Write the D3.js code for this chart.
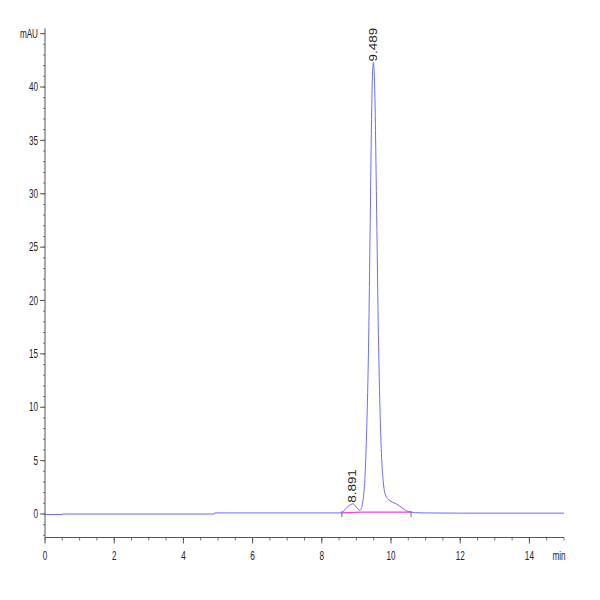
<!DOCTYPE html>
<html>
<head>
<meta charset="utf-8">
<script src="https://cdn.jsdelivr.net/npm/d3@7"></script>
<style>
  body { margin: 0; background: #fff; }
  text { font-family: "Liberation Sans", Arial, sans-serif; }
</style>
</head>
<body>
<svg id="chart" width="600" height="600"></svg>
<script>
// retention time (min) and signal (mAU)
var times = [0, 0.5, 0.5, 4.9, 4.9, 8.5, 8.58, 8.65, 8.72, 8.8, 8.85, 8.891, 8.95, 9.0, 9.05, 9.1,
  9.15, 9.2, 9.25, 9.3, 9.35, 9.4, 9.45, 9.489, 9.53, 9.58, 9.63, 9.68, 9.73, 9.78, 9.85,
  9.95, 10.05, 10.15, 10.25, 10.35, 10.45, 10.55, 10.7, 11, 12, 15];
var signal = [-0.05, -0.05, 0.0, 0.0, 0.1, 0.1, 0.12, 0.35, 0.6, 0.82, 0.9, 0.95, 0.85, 0.65, 0.45, 0.35,
  0.6, 1.5, 3.6, 8.2, 15.5, 27.5, 39.3, 42.3, 39.8, 29.5, 18, 10, 5.2, 2.9, 1.7,
  1.3, 1.1, 0.95, 0.75, 0.5, 0.3, 0.18, 0.12, 0.1, 0.08, 0.08];

// integration baseline (pink)
var baseTimes = [8.58, 9.12, 10.58];
var baseValues = [0.1, 0.18, 0.17];

var peaks = [{t: 8.891, v: 0.95, label: "8.891"}, {t: 9.489, v: 42.3, label: "9.489"}];

var yTicks = [0, 5, 10, 15, 20, 25, 30, 35, 40];
var xTicks = [0, 2, 4, 6, 8, 10, 12, 14];

var svg = d3.select("#chart");
svg.append("rect").attr("width", 600).attr("height", 600).attr("fill", "#fff");

var x = d3.scaleLinear().domain([0, 15]).range([45, 564]);
var y = d3.scaleLinear().domain([0, 40]).range([514, 87]);
var yBottom = 537.5, yTop = y(45.5);

var axisColor = "#555";
var textColor = "#222";
var squeeze = 0.68; // tick labels are narrow in the original

// y axis
var ya = svg.append("g");
ya.append("line").attr("x1", x(0)).attr("x2", x(0)).attr("y1", yTop).attr("y2", yBottom)
  .attr("stroke", axisColor);
ya.selectAll("line.minor").data(d3.range(-2, 46)).enter().append("line")
  .attr("x1", x(0) - 2).attr("x2", x(0))
  .attr("y1", function(d) { return y(d); }).attr("y2", function(d) { return y(d); })
  .attr("stroke", axisColor).attr("stroke-width", 0.8);
ya.selectAll("line.major").data(yTicks.concat([45])).enter().append("line")
  .attr("x1", x(0) - 5).attr("x2", x(0))
  .attr("y1", function(d) { return y(d); }).attr("y2", function(d) { return y(d); })
  .attr("stroke", axisColor);
ya.selectAll("text").data(yTicks).enter().append("text")
  .attr("transform", function(d) { return "translate(" + (x(0) - 7) + "," + y(d) + ") scale(" + squeeze + ",1)"; })
  .attr("dy", "0.35em").attr("text-anchor", "end")
  .attr("font-size", 12).attr("fill", textColor)
  .text(function(d) { return d; });
ya.append("text")
  .attr("transform", "translate(" + (x(0) - 7) + "," + y(45) + ") scale(" + squeeze + ",1)")
  .attr("dy", "0.35em").attr("text-anchor", "end")
  .attr("font-size", 12).attr("fill", textColor).text("mAU");

// x axis
var xa = svg.append("g");
xa.append("line").attr("x1", x(0)).attr("x2", x(15)).attr("y1", yBottom).attr("y2", yBottom)
  .attr("stroke", axisColor);
xa.selectAll("line.minor").data(d3.range(0, 15.01, 0.5)).enter().append("line")
  .attr("x1", function(d) { return x(d); }).attr("x2", function(d) { return x(d); })
  .attr("y1", yBottom).attr("y2", yBottom + 3)
  .attr("stroke", axisColor).attr("stroke-width", 0.8);
xa.selectAll("line.major").data(xTicks).enter().append("line")
  .attr("x1", function(d) { return x(d); }).attr("x2", function(d) { return x(d); })
  .attr("y1", yBottom).attr("y2", yBottom + 6)
  .attr("stroke", axisColor);
xa.selectAll("text").data(xTicks).enter().append("text")
  .attr("transform", function(d) { return "translate(" + x(d) + "," + (yBottom + 22) + ") scale(" + squeeze + ",1)"; })
  .attr("text-anchor", "middle").attr("font-size", 12).attr("fill", textColor)
  .text(function(d) { return d; });
xa.append("text")
  .attr("transform", "translate(" + (x(15) - 5) + "," + (yBottom + 22) + ") scale(" + squeeze + ",1)")
  .attr("text-anchor", "middle").attr("font-size", 12).attr("fill", textColor).text("min");

// integration baseline
var baseData = d3.zip(baseTimes, baseValues);
svg.append("path").datum(baseData)
  .attr("fill", "none").attr("stroke", "#ff40d0").attr("stroke-width", 1.3)
  .attr("d", d3.line().x(function(d) { return x(d[0]); }).y(function(d) { return y(d[1]); }));
svg.selectAll("line.bmark").data([baseTimes[0], baseTimes[2]]).enter().append("line")
  .attr("x1", function(d) { return x(d); }).attr("x2", function(d) { return x(d); })
  .attr("y1", y(0) - 3).attr("y2", y(0) + 3)
  .attr("stroke", "#444").attr("stroke-width", 0.8);

// signal trace
var trace = d3.zip(times, signal);
svg.append("path").datum(trace)
  .attr("fill", "none").attr("stroke", "#6b6bff").attr("stroke-width", 1)
  .attr("d", d3.line().curve(d3.curveMonotoneX)
    .x(function(d) { return x(d[0]); }).y(function(d) { return y(d[1]); }));

// peak labels, rotated and stretched along the text
svg.selectAll("text.peak").data(peaks).enter().append("text")
  .attr("transform", function(d) { return "translate(" + x(d.t) + "," + (y(d.v) - 1) + ") rotate(-90) scale(1.35,1)"; })
  .attr("dy", "0.35em").attr("font-size", 10).attr("fill", textColor)
  .text(function(d) { return d.label; });
</script>
</body>
</html>
